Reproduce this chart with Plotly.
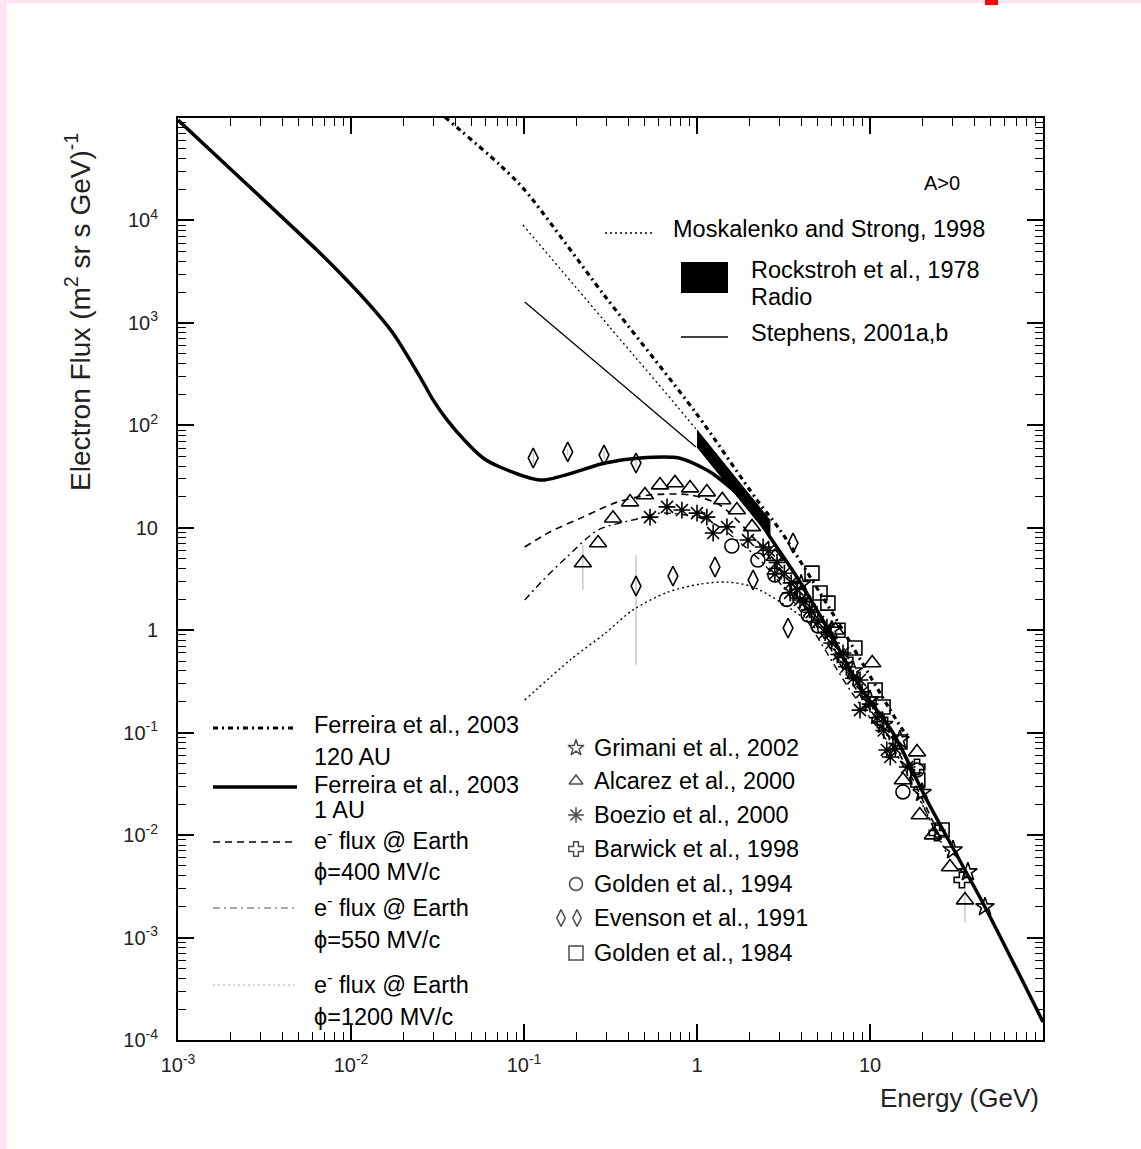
import plotly.graph_objects as go

# ---------------- data (Energy in GeV, flux in (m^2 sr s GeV)^-1) ----------------
ferreira_1au_E = [0.001, 0.0026, 0.00635, 0.00863, 0.0134, 0.0175, 0.0251, 0.0298, 0.0359, 0.0469, 0.058,
                  0.0726, 0.127, 0.294, 0.469, 0.787, 1.14, 1.31, 1.945, 2.64, 3.78, 5.64, 8.75, 13.6,
                  21.3, 46.2, 100]
ferreira_1au_F = [95500, 21200, 5140, 3070, 1380, 794, 296, 177, 113, 67.1, 48.0,
                  39.2, 29.2, 42.9, 48.0, 48.0, 36.6, 31.3, 17.5, 8.13, 3.30, 1.07, 0.279, 0.0993,
                  0.0220, 0.00199, 0.000150]

ferreira_120au_E = [0.0349, 0.0726, 0.101, 0.294, 0.986, 2.22, 3.02, 6.31, 15.5, 17.0]
ferreira_120au_F = [102000, 34800, 19800, 1820, 132, 18.7, 9.51, 1.32, 0.106, 0.0887]

moskalenko_E = [0.0986, 0.316, 1.0, 1.585]
moskalenko_F = [9020, 891, 89.1, 31.6]

stephens_E = [0.101, 0.986]
stephens_F = [1600, 61.4]

radio_upper_E = [1.0, 2.64]
radio_upper_F = [89.9, 11.9]
radio_lower_E = [1.0, 2.64]
radio_lower_F = [61.4, 8.13]

phi400_E = [0.101, 0.141, 0.219, 0.345, 0.535, 0.912, 1.36, 2.31, 3.94, 7.66, 14.9, 25.1]
phi400_F = [6.49, 9.10, 12.7, 17.8, 20.9, 20.9, 16.6, 6.76, 1.97, 0.327, 0.0605, 0.0100]

phi550_E = [0.101, 0.129, 0.177, 0.268, 0.469, 0.611, 1.14, 2.31, 3.94, 7.66, 14.9, 25.1]
phi550_F = [1.97, 3.09, 5.19, 9.51, 12.4, 13.9, 11.9, 4.84, 1.57, 0.261, 0.0541, 0.0089]

phi1200_E = [0.101, 0.185, 0.294, 0.427, 0.671, 1.04, 1.49, 2.11, 4.05, 6.11, 9.73, 17.0, 29.0]
phi1200_F = [0.208, 0.513, 0.93, 1.58, 2.34, 2.82, 2.95, 2.64, 1.35, 0.685, 0.208, 0.0345, 0.00571]

grimani_E = [4.0, 6.0, 8.0, 10.0, 12.0, 14.9, 20.0, 30.2, 36.8, 46.2]
grimani_F = [2.8, 1.0, 0.40, 0.209, 0.12, 0.0851, 0.026, 0.00714, 0.00437, 0.00199]

alcarez_E = [0.219, 0.268, 0.327, 0.410, 0.500, 0.611, 0.746, 0.912, 1.14, 1.40, 1.70, 2.08,
             2.82, 3.98, 6.31, 10.3, 15.5, 18.7, 19.4, 23.1, 29.0, 35.4]
alcarez_F = [4.53, 7.10, 12.4, 17.8, 20.9, 26.1, 27.4, 24.4, 22.3, 18.7, 14.9, 10.2,
             5.25, 2.24, 1.0, 0.479, 0.0345, 0.0646, 0.0157, 0.0100, 0.00488, 0.00232]
alcarez_err_plus = [2.27, 0, 0, 0, 0, 0, 0, 0, 0, 0, 0, 0, 0, 0, 0, 0, 0, 0, 0, 0, 0, 0.0006]
alcarez_err_minus = [2.06, 0, 0, 0, 0, 0, 0, 0, 0, 0, 0, 0, 0, 0, 0, 0, 0, 0, 0, 0, 0, 0.0009]

boezio_E = [0.535, 0.671, 0.818, 1.0, 1.14, 1.24, 1.49, 1.97, 2.41, 2.6, 2.82, 2.9, 3.2, 3.45, 3.5,
            3.8, 3.94, 4.2, 4.47, 4.6, 5.0, 5.5, 5.64, 6.0, 6.6, 6.98, 7.3, 8.0, 8.75, 8.75, 9.0,
            10.0, 11.0, 12.0, 12.5, 13.1, 14.0, 16.4]
boezio_F = [12.7, 16.0, 14.9, 13.9, 12.7, 8.89, 10.2, 7.59, 6.49, 6.0, 3.55, 4.6, 3.6, 2.31, 2.9,
            2.5, 1.97, 1.9, 1.58, 1.5, 1.2, 0.95, 1.07, 0.75, 0.58, 0.600, 0.44, 0.34, 0.327, 0.166, 0.25,
            0.19, 0.14, 0.105, 0.0678, 0.0578, 0.07, 0.0462]

barwick_E = [7.18, 11.4, 18.7, 24.4, 34.0]
barwick_F = [0.513, 0.133, 0.0462, 0.0105, 0.00365]

golden94_E = [1.59, 2.25, 2.82, 3.3, 4.39, 5.0, 15.5, 18.7]
golden94_F = [6.64, 4.84, 3.46, 2.0, 1.41, 1.1, 0.0264, 0.0432]

evenson_E = [0.113, 0.179, 0.290, 0.444, 0.444, 0.726, 1.27, 2.11, 3.36, 3.59]
evenson_F = [48.0, 55.0, 51.3, 42.9, 2.70, 3.38, 4.14, 3.09, 1.05, 7.10]
evenson_err_plus = [6, 4, 5, 4, 2.72, 0, 0, 0, 0, 0]
evenson_err_minus = [6, 4, 5, 4, 2.24, 0, 0, 0, 0, 0]

golden84_E = [4.62, 5.14, 5.71, 6.53, 8.18, 10.7, 11.9, 14.9, 18.9, 26.1]
golden84_F = [3.61, 2.31, 1.84, 1.0, 0.670, 0.261, 0.178, 0.0811, 0.0345, 0.0112]

x_tickvals = [1e-3, 1e-2, 1e-1, 1, 10]
x_ticktext = ["10<sup>-3</sup>", "10<sup>-2</sup>", "10<sup>-1</sup>", "1", "10"]
y_tickvals = [1e-4, 1e-3, 1e-2, 1e-1, 1, 10, 1e2, 1e3, 1e4]
y_ticktext = ["10<sup>-4</sup>", "10<sup>-3</sup>", "10<sup>-2</sup>", "10<sup>-1</sup>", "1", "10",
              "10<sup>2</sup>", "10<sup>3</sup>", "10<sup>4</sup>"]

# ---------------- layout geometry (pixels) ----------------
W, H = 1141, 1149
L, R, T, B = 178, 1043, 118, 1040


def fx(px):
    return (px - L) / (R - L)


def fy(py):
    return (B - py) / (B - T)


FONT = "Liberation Sans, Arial, sans-serif"
DASHDOT_HEAVY = "5px,4px,2px,4px"
DASHED = "7px,5px"
DASHDOT = "7px,4px,2px,4px"
DOTTED = "2px,3px"

fig = go.Figure()

# radio band (Rockstroh)
fig.add_trace(go.Scatter(
    x=radio_upper_E + radio_lower_E[::-1], y=radio_upper_F + radio_lower_F[::-1],
    fill="toself", fillcolor="black", line=dict(color="black", width=1), mode="lines",
    showlegend=False, hoverinfo="skip"))


def line(x, y, width, dash="solid", color="black", smoothing=0.8):
    fig.add_trace(go.Scatter(x=x, y=y, mode="lines", showlegend=False,
                             line=dict(color=color, width=width, dash=dash, shape="spline", smoothing=smoothing)))


line(moskalenko_E, moskalenko_F, 1.3, DOTTED)
line(stephens_E, stephens_F, 1.3)
line(ferreira_120au_E, ferreira_120au_F, 3.2, DASHDOT_HEAVY)
line(phi400_E, phi400_F, 1.6, DASHED)
line(phi550_E, phi550_F, 1.4, DASHDOT)
line(phi1200_E, phi1200_F, 1.4, DOTTED)
line(ferreira_1au_E, ferreira_1au_F, 3.5, smoothing=0.7)


def pts(x, y, symbol, size, ep=None, em=None):
    kw = {}
    if ep is not None:
        kw["error_y"] = dict(type="data", symmetric=False, array=ep, arrayminus=em,
                             color="#999999", thickness=0.8, width=0)
    fig.add_trace(go.Scatter(x=x, y=y, mode="markers", showlegend=False,
                             marker=dict(symbol=symbol, size=size, color="black",
                                         line=dict(color="black", width=1.6)), **kw))


pts(golden84_E, golden84_F, "square-open", 14)
pts(golden94_E, golden94_F, "circle-open", 14)
pts(barwick_E, barwick_F, "cross-open", 13)
pts(boezio_E, boezio_F, "asterisk-open", 14)
pts(alcarez_E, alcarez_F, "triangle-up-open", 15, alcarez_err_plus, alcarez_err_minus)
pts(evenson_E, evenson_F, "diamond-tall-open", 14, evenson_err_plus, evenson_err_minus)
pts(grimani_E, grimani_F, "star-open", 14)

# ---------------- legend samples (overlay axes in paper-like units) ----------------
leg_marker_x = [fx(576), fx(576), fx(576), fx(576), fx(576), fx(561), fx(577), fx(576)]
leg_marker_y = [fy(748), fy(781), fy(815), fy(849), fy(884), fy(918), fy(918), fy(953)]
leg_symbols = ["star-open", "triangle-up-open", "asterisk-open", "cross-open", "circle-open",
               "diamond-tall-open", "diamond-tall-open", "square-open"]
leg_sizes = [12, 12, 13, 12, 13, 12, 12, 14]
fig.add_trace(go.Scatter(x=leg_marker_x, y=leg_marker_y, xaxis="x2", yaxis="y2", mode="markers",
                         showlegend=False, cliponaxis=False,
                         marker=dict(symbol=leg_symbols, size=leg_sizes, color="black",
                                     line=dict(color="black", width=1.5))))

shapes = []
# page pink border + red mark
PINK = "#fde4f3"
shapes.append(dict(type="rect", xref="paper", yref="paper", x0=fx(0), x1=fx(7), y0=fy(H), y1=fy(0),
                   fillcolor=PINK, line=dict(width=0), layer="below"))
shapes.append(dict(type="rect", xref="paper", yref="paper", x0=fx(0), x1=fx(W), y0=fy(3), y1=fy(0),
                   fillcolor=PINK, line=dict(width=0), layer="below"))
shapes.append(dict(type="rect", xref="paper", yref="paper", x0=fx(985), x1=fx(998), y0=fy(5), y1=fy(0),
                   fillcolor="red", line=dict(width=0)))


# legend line samples
def seg(x0, x1, y, width, dash, color="black"):
    shapes.append(dict(type="line", xref="paper", yref="paper", x0=fx(x0), x1=fx(x1), y0=fy(y), y1=fy(y),
                       line=dict(color=color, width=width, dash=dash)))


seg(605, 654, 233, 1.3, DOTTED)
seg(681, 728, 337, 1.3, "solid")
shapes.append(dict(type="rect", xref="paper", yref="paper", x0=fx(681), x1=fx(728), y0=fy(293), y1=fy(262),
                   fillcolor="black", line=dict(width=0)))
seg(213, 297, 728, 3.2, DASHDOT_HEAVY)
seg(213, 297, 787, 3.5, "solid")
seg(213, 297, 842, 1.4, DASHED)
seg(213, 297, 908, 1.2, DASHDOT, "#555555")
seg(213, 297, 985, 1.2, DOTTED, "#aaaaaa")

# ---------------- annotations ----------------
ann = []


def txt(x, y, s, size=23.5, xanchor="left"):
    ann.append(dict(x=fx(x), y=fy(y), xref="paper", yref="paper", text=s, showarrow=False,
                    xanchor=xanchor, yanchor="middle", font=dict(family=FONT, size=size, color="black")))


txt(922, 183, "A&gt;0", 20)
txt(671, 229, "Moskalenko and Strong, 1998")
txt(749, 270, "Rockstroh et al., 1978")
txt(749, 297, "Radio")
txt(749, 333, "Stephens, 2001a,b")

txt(312, 725, "Ferreira et al., 2003")
txt(312, 757, "120 AU")
txt(312, 785, "Ferreira et al., 2003")
txt(312, 810, "1 AU")
txt(312, 839, "e<sup>-</sup> flux @ Earth")
txt(312, 872, "ϕ=400 MV/c")
txt(312, 906, "e<sup>-</sup> flux @ Earth")
txt(312, 940, "ϕ=550 MV/c")
txt(312, 983, "e<sup>-</sup> flux @ Earth")
txt(312, 1017, "ϕ=1200 MV/c")

for yy, s in [(748, "Grimani et al., 2002"), (781, "Alcarez et al., 2000"), (815, "Boezio et al., 2000"),
              (849, "Barwick et al., 1998"), (884, "Golden et al., 1994"), (918, "Evenson et al., 1991"),
              (953, "Golden et al., 1984")]:
    txt(592, yy, s)

# axis titles
ann.append(dict(x=fx(1041), y=fy(1098), xref="paper", yref="paper", text="Energy (GeV)", showarrow=False,
                xanchor="right", yanchor="middle", font=dict(family=FONT, size=26, color="#222")))
ann.append(dict(x=fx(78), y=fy(312), xref="paper", yref="paper",
                text="Electron Flux (m<sup>2</sup> sr s GeV)<sup>-1</sup>", showarrow=False, textangle=-90,
                xanchor="center", yanchor="middle", font=dict(family=FONT, size=28, color="#222")))

x_minor = [m * 10.0 ** d for d in range(-3, 2) for m in range(2, 10)]
y_minor = [m * 10.0 ** d for d in range(-4, 5) for m in range(2, 10)]

axis_common = dict(type="log", showline=True, linecolor="black", linewidth=2, mirror="allticks",
                   ticks="inside", ticklen=16, tickwidth=1.5, tickcolor="black", showgrid=False,
                   zeroline=False, tickfont=dict(family=FONT, size=20, color="#222"))

fig.update_layout(
    width=W, height=H,
    margin=dict(l=L, r=W - R, t=T, b=H - B, pad=0),
    paper_bgcolor="white", plot_bgcolor="white",
    showlegend=False,
    xaxis=dict(range=[-3, 2], tickvals=x_tickvals, ticktext=x_ticktext, ticklabelstandoff=6,
               minor=dict(tickvals=x_minor, ticks="inside", ticklen=8, tickwidth=1.2, tickcolor="black"),
               **axis_common),
    yaxis=dict(range=[-4, 5], tickvals=y_tickvals, ticktext=y_ticktext, ticklabelstandoff=14,
               minor=dict(tickvals=y_minor, ticks="inside", ticklen=8, tickwidth=1.2, tickcolor="black"),
               **axis_common),
    xaxis2=dict(overlaying="x", range=[0, 1], visible=False, fixedrange=True),
    yaxis2=dict(overlaying="y", range=[0, 1], visible=False, fixedrange=True),
    shapes=shapes,
    annotations=ann,
)

fig.write_html("out.html")
